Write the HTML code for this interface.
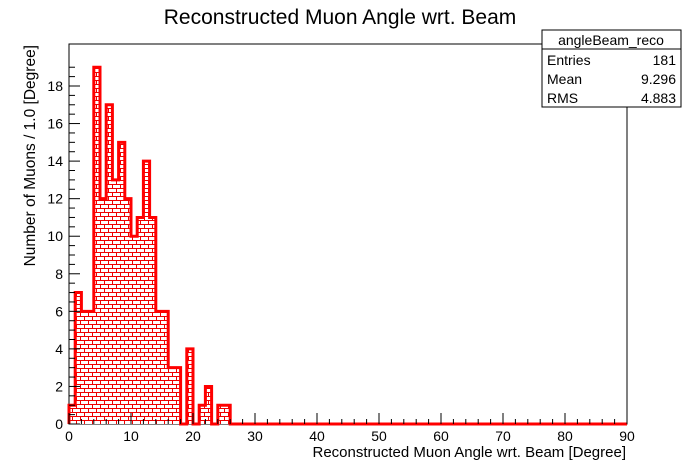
<!DOCTYPE html>
<html><head><meta charset="utf-8"><style>
body{margin:0;background:#fff;}
svg{display:block;font-family:"Liberation Sans",Arial,sans-serif;}
</style></head><body>
<svg id="c" width="696" height="472">
<defs>
<pattern id="brick" patternUnits="userSpaceOnUse" width="8" height="8">
<rect width="8" height="8" fill="#fff"/>
<path d="M0,0.5H8M0,4.5H8M0.5,0V4M4.5,4V8" stroke="#e00" stroke-width="1" fill="none"/>
</pattern>
</defs>
<text x="340" y="24" text-anchor="middle" font-size="21">Reconstructed Muon Angle wrt. Beam</text>
<rect x="69" y="44" width="558" height="380" fill="none" stroke="#000"/>
<g id="hist"></g>
<g id="axes"></g>
<text x="626" y="457" text-anchor="end" font-size="15">Reconstructed Muon Angle wrt. Beam [Degree]</text>
<text transform="translate(35,45) rotate(-90)" x="0" y="0" text-anchor="end" font-size="15.5">Number of Muons / 1.0 [Degree]</text>
<g>
<rect x="542" y="30" width="139" height="77" fill="#fff" stroke="#000"/>
<line x1="542" y1="49" x2="681" y2="49" stroke="#000"/>
<text x="611" y="45" text-anchor="middle" font-size="14">angleBeam_reco</text>
<text x="547" y="65" font-size="14">Entries</text><text x="676" y="65" text-anchor="end" font-size="14">181</text>
<text x="547" y="84" font-size="14">Mean</text><text x="676" y="84" text-anchor="end" font-size="14">9.296</text>
<text x="547" y="103" font-size="14">RMS</text><text x="676" y="103" text-anchor="end" font-size="14">4.883</text>
</g>
</svg>
<script>
const counts=[1,7,6,6,19,12,17,13,15,12,10,11,14,11,6,6,3,3,0,4,0,1,2,0,1,1,0,0,0,0,0,0,0,0,0,0,0,0,0,0,0,0,0,0,0,0,0,0,0,0,0,0,0,0,0,0,0,0,0,0,0,0,0,0,0,0,0,0,0,0,0,0,0,0,0,0,0,0,0,0,0,0,0,0,0,0,0,0,0,0];
const binWidth=1;
const xTicks=[0,10,20,30,40,50,60,70,80,90];
const yTicks=[0,2,4,6,8,10,12,14,16,18];
const NS="http://www.w3.org/2000/svg";
const X0=69,X1=627,Y0=424,Y18=86;
const xs=v=>X0+(v/90)*(X1-X0);
const ys=v=>Y0-(v/18)*(Y0-Y18);
const hist=document.getElementById('hist');
let d=`M${xs(0)},${ys(0)}`;
counts.forEach((c,i)=>{d+=`L${xs(i*binWidth)},${ys(c)}L${xs((i+1)*binWidth)},${ys(c)}`;});
d+=`L${xs(counts.length*binWidth)},${ys(0)}Z`;
const fill=document.createElementNS(NS,'path');
fill.setAttribute('d',d);fill.setAttribute('fill','url(#brick)');


hist.appendChild(fill);
let od=`M${xs(0)},${ys(0)}`;
counts.forEach((c,i)=>{od+=`L${xs(i*binWidth)},${ys(c)}L${xs((i+1)*binWidth)},${ys(c)}`;});
const outline=document.createElementNS(NS,'path');
outline.setAttribute('d',od);outline.setAttribute('fill','none');
outline.setAttribute('stroke','#f00');outline.setAttribute('stroke-width','3');


hist.appendChild(outline);
const axes=document.getElementById('axes');
function line(x1,y1,x2,y2){const l=document.createElementNS(NS,'line');l.setAttribute('x1',x1);l.setAttribute('y1',y1);l.setAttribute('x2',x2);l.setAttribute('y2',y2);l.setAttribute('stroke','#000');axes.appendChild(l);return l;}
for(let v=0;v<=90;v+=2){line(xs(v),Y0,xs(v),Y0-(v%10===0?11:5));}
for(let v=0;v<=19;v+=0.5){line(X0,ys(v),X0+(v%2===0?11:6),ys(v));}
xTicks.forEach(v=>{const t=document.createElementNS(NS,'text');t.setAttribute('x',xs(v));t.setAttribute('y',441);t.setAttribute('text-anchor','middle');t.setAttribute('font-size','14');t.textContent=v;


axes.appendChild(t);});
yTicks.forEach(v=>{const t=document.createElementNS(NS,'text');t.setAttribute('x',63);t.setAttribute('y',ys(v)+5);t.setAttribute('text-anchor','end');t.setAttribute('font-size','14');t.textContent=v;


axes.appendChild(t);});
</script>
</body></html>
